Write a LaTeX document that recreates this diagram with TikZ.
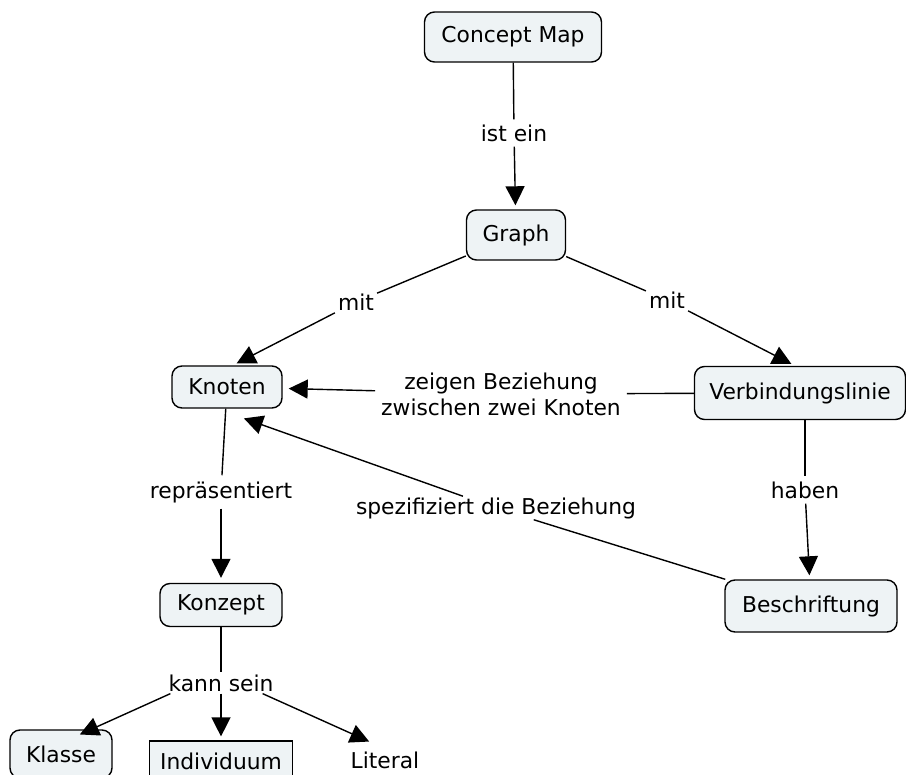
\documentclass[tikz,border=0pt]{standalone}
\usepackage{fontspec}
\setmainfont{DejaVu Sans}
\usetikzlibrary{arrows.meta}
\definecolor{cfill}{HTML}{EEF3F5}
\tikzset{
  concept/.style={draw=black, line width=1.4pt, rounded corners=10pt, fill=cfill,
    inner sep=0pt, font=\fontsize{21.8}{26}\selectfont},
  plainbox/.style={draw=black, line width=1.2pt, fill=cfill, inner sep=0pt,
    font=\fontsize{21.8}{26}\selectfont},
  lbl/.style={inner sep=3pt, font=\fontsize{21.8}{26}\selectfont, align=center},
  link/.style={line width=1.4pt},
  arr/.style={line width=1.4pt, -{Triangle[length=19pt,width=19pt]}, shorten >=4pt}
}
\begin{document}
\begin{tikzpicture}[x=1pt,y=-1pt]
  \useasboundingbox (0,0) rectangle (906,775);

  % concepts
  \node[concept, minimum width=177pt, minimum height=50pt] (cm) at (513,37) {Concept Map};
  \node[concept, minimum width=99pt, minimum height=50pt] (gr) at (516,235) {Graph};
  \node[concept, minimum width=110pt, minimum height=42pt] (kn) at (227,387) {Knoten};
  \node[concept, minimum width=211pt, minimum height=53pt] (vb) at (800,393) {Verbindungslinie};
  \node[concept, minimum width=122pt, minimum height=43pt] (kz) at (221,605) {Konzept};
  \node[concept, minimum width=172pt, minimum height=52pt] (be) at (811,606) {Beschriftung};
  \node[concept, minimum width=102pt, minimum height=48pt] (kl) at (61,754) {Klasse};
  \node[plainbox, minimum width=143pt, minimum height=40pt] (in) at (221,761) {Individuum};
  \node[lbl] (li) at (385,760) {Literal};

  % linking phrases
  \node[lbl, inner ysep=5pt] (le) at (514,133) {ist ein};
  \node[lbl] (m1) at (356,302) {mit};
  \node[lbl] (m2) at (667,300) {mit};
  \node[lbl, inner xsep=6pt] (zb) at (501,394) {zeigen Beziehung\\zwischen zwei Knoten};
  \node[lbl, inner ysep=6pt] (rp) at (221,492) {repräsentiert};
  \node[lbl, inner sep=1pt] (sp) at (496,508) {spezifiziert die Beziehung};
  \node[lbl, inner ysep=5pt] (hb) at (805,490) {haben};
  \node[lbl, inner ysep=2pt] (ks) at (221,683) {kann sein};

  % connectors
  \draw[link] (cm) -- (le);
  \draw[arr] (le) -- (gr);
  \draw[link] (gr) -- (m1);
  \draw[arr] (m1) -- ([xshift=6pt]kn.north);
  \draw[link] (gr) -- (m2);
  \draw[arr] (m2) -- ([xshift=-5pt]vb.north);
  \draw[link] (vb) -- (zb);
  \draw[arr, shorten >=6pt] (zb) -- (kn);
  \draw[link] (kn) -- (rp);
  \draw[arr, shorten >=5pt] (rp) -- (kz);
  \draw[link] (be) -- (sp);
  \draw[arr, shorten >=2pt] (sp) -- ([xshift=15pt,yshift=-9pt]kn.south);
  \draw[link] (vb.south -| hb) -- (hb);
  \draw[arr] (hb) -- (be);
  \draw[link] (kz) -- (ks);
  \draw[arr, shorten >=2pt] ([xshift=5pt]ks.south west) -- ([xshift=17pt,yshift=-6pt]kl.north);
  \draw[arr] (ks) -- (in);
  \draw[arr, shorten >=2pt] ([xshift=-14pt]ks.south east) -- ([xshift=-14pt,yshift=6pt]li.north);
\end{tikzpicture}
\end{document}
